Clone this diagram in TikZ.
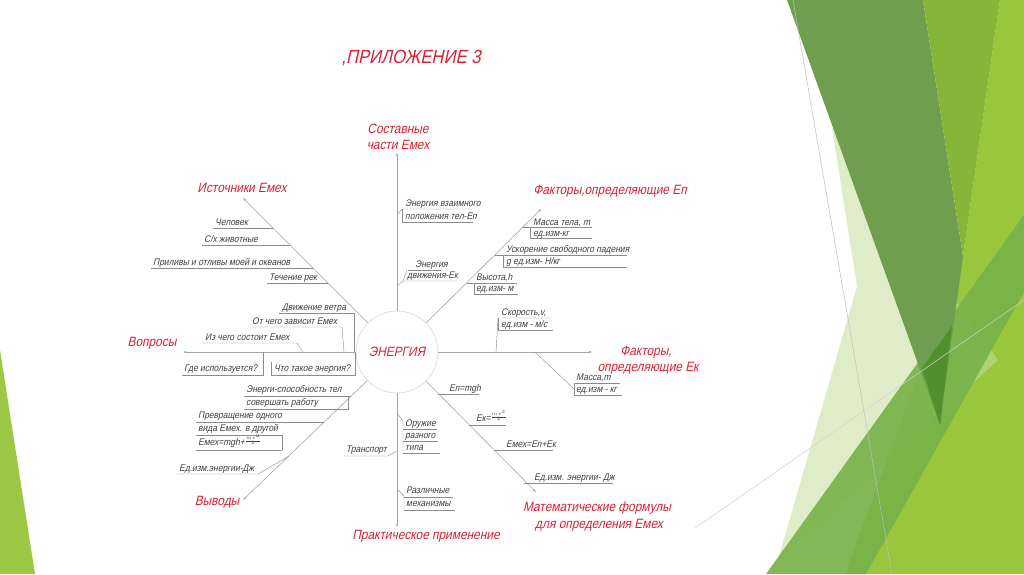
\documentclass[tikz,border=0pt]{standalone}
\usepackage{fontspec}
\newfontfamily\gost[FakeStretch=0.88,FakeSlant=0.22]{Liberation Sans}
\usetikzlibrary{arrows.meta}
\definecolor{redT}{HTML}{D42335}
\definecolor{gA}{HTML}{6F9F4E}
\definecolor{gB}{HTML}{87B537}
\definecolor{gC}{HTML}{99C63D}
\definecolor{gD}{HTML}{C6DE9C}
\definecolor{gE}{HTML}{78B24A}
\definecolor{gDk}{HTML}{52902E}
\definecolor{gL}{HTML}{9DC845}
\newcommand{\mvfrac}{\raisebox{2.5pt}{$\scriptstyle\frac{mv^2}{2}$}}
\begin{document}
\begin{tikzpicture}[x=1pt,y=-1pt,
  spoke/.style={draw=black!35,line width=0.6pt,-{Stealth[length=3.5pt,width=2.4pt]}},
  ul/.style={draw=black!45,line width=0.4pt},
  lbl/.style={font=\gost\fontsize{9.6}{11}\selectfont,text=black!75,inner sep=0pt,anchor=base west},
  hd/.style={font=\gost\fontsize{13.5}{16}\selectfont,text=redT,inner sep=0pt,anchor=center},
  ttl/.style={font=\gost\fontsize{19}{22}\selectfont,text=redT,inner sep=0pt,anchor=center},
  core/.style={circle,draw=black!12,line width=0.8pt,minimum size=82pt,inner sep=0pt,
    font=\gost\fontsize{13.5}{16}\selectfont,text=redT}]
\useasboundingbox (0,0) rectangle (1024,574);
\fill[white] (0,0) rectangle (1024,574);
% background facets
\fill[gC] (1000,0)--(1024,0)--(1024,574)--(845,574)--(963,256)--cycle;
\fill[gD,opacity=0.55] (832,128)--(998,360)--(778,560)--(857,286)--cycle;
\fill[gE,opacity=0.92] (766,574)--(1024,215)--(1024,292)--(866,574)--cycle;
\fill[gA] (787,0)--(923,0)--(963,256)--(940,425)--cycle;
\fill[gB] (923,0)--(1000,0)--(963,256)--cycle;
\fill[gDk] (922,368)--(952,326)--(940,425)--cycle;
\draw[black!25,line width=0.5pt] (793,0)--(892,574);
\draw[black!18,line width=0.5pt] (695,528)--(1024,300);
\fill[gL] (0,350)--(35,574)--(0,574)--cycle;

% title
\node[ttl] (title) at (411,58) {,ПРИЛОЖЕНИЕ 3};

% centre
\node[core] (E) at (397,352) {ЭНЕРГИЯ};

% arrow tips
\coordinate (tU) at (397,153);
\coordinate (tUL) at (243,198);
\coordinate (tL) at (183,352);
\coordinate (tDL) at (243,500);
\coordinate (tD) at (397,527);
\coordinate (tDR) at (536,492);
\coordinate (tR) at (592,352);
\coordinate (tUR) at (541,209);

\foreach \t in {tU,tUL,tL,tDL,tD,tDR,tR,tUR} \draw[spoke] (E) -- (\t);

% headings
\node[hd] (hU1) at (398,129) {Составные};
\node[hd] (hU2) at (398,145) {части Емех};
\node[hd] (hUL) at (242,188) {Источники Емех};
\node[hd] (hL) at (152,343) {Вопросы};
\node[hd] (hDL) at (217,502) {Выводы};
\node[hd] (hD) at (426,536) {Практическое применение};
\node[hd] (hDR1) at (597,508) {Математические формулы};
\node[hd] (hDR2) at (599,525) {для определения Емех};
\node[hd] (hR1) at (646,352) {Факторы,};
\node[hd] (hR2) at (648,368) {определяющие Ек};
\node[hd] (hUR) at (610,191) {Факторы,определяющие Еп};

% --- up: Составные части
\node[lbl] (c1a) at (405,206) {Энергия взаимного};
\node[lbl] (c1b) at (405,219) {положения тел-Еп};
\coordinate (bc1) at (397,215);
\draw[ul] (bc1) -- (402,209) -- (472,209);
\draw[ul] (402,209) -- (402,222) -- (473,222);
\node[lbl] (c2a) at (415,267) {Энергия};
\node[lbl] (c2b) at (407,278) {движения-Ек};
\coordinate (bc2) at (397,286);
\draw[ul] (408,270) -- (441,270);
\draw[ul] (bc2) -- (403,281) -- (457,281);
\draw[ul] (403,281) -- (407,270);

% --- up-left: Источники
\node[lbl] (u1) at (215,225) {Человек};
\node[lbl] (u2) at (204,242) {С/х животные};
\node[lbl] (u3) at (153,265) {Приливы и отливы моей и океанов};
\node[lbl] (u4) at (269,280) {Течение рек};
\coordinate (bu1) at (273,228);
\coordinate (bu2) at (290,245);
\coordinate (bu3) at (313,268);
\coordinate (bu4) at (328,283);
\draw[ul] (213,228) -- (bu1);
\draw[ul] (202,245) -- (bu2);
\draw[ul] (151,268) -- (bu3);
\draw[ul] (267,283) -- (bu4);

% --- left: Вопросы
\node[lbl] (l1) at (282,310) {Движение ветра};
\node[lbl] (l2) at (252,324) {От чего зависит Емех};
\node[lbl] (l3) at (205,340) {Из чего состоит Емех};
\node[lbl] (l4) at (184,371) {Где используется?};
\node[lbl] (l5) at (274,371) {Что такое энергия?};
\coordinate (bl1) at (354,352);
\coordinate (bl2) at (344,352);
\coordinate (bl3) at (303,352);
\coordinate (bl4) at (263,352);
\coordinate (bl5) at (355,352);
\draw[ul] (279,313) -- (354,313) -- (bl1);
\draw[ul] (250,327) -- (342,327) -- (bl2);
\draw[ul] (203,343) -- (297,343) -- (bl3);
\draw[ul] (182,375) -- (263,375) -- (bl4);
\draw[ul] (271,362) -- (271,375) -- (355,375) -- (bl5);

% --- down-left: Выводы
\node[lbl] (d1a) at (246,392) {Энерги-способность тел};
\node[lbl] (d1b) at (246,405) {совершать работу};
\coordinate (bd1) at (351,396);
\draw[ul] (244,396) -- (bd1);
\draw[ul] (244,409) -- (348,409) -- (348,396);
\node[lbl] (d2a) at (198,418) {Превращение одного};
\node[lbl] (d2b) at (198,431) {вида Емех. в другой};
\coordinate (bd2) at (324,422);
\draw[ul] (196,422) -- (bd2);
\draw[ul] (196,435) -- (282,435) -- (282,450);
\node[lbl] (d3) at (198,445) {Емех=mgh+\mvfrac};
\draw[ul] (196,450) -- (282,450);
\node[lbl] (d4) at (179,471) {Ед.изм.энергии-Дж};
\coordinate (bd4) at (289,456);
\draw[ul] (177,474) -- (258,474) -- (bd4);

% --- down: Практическое применение
\node[lbl] (p1a) at (405,426) {Оружие};
\node[lbl] (p1b) at (405,438) {разного};
\node[lbl] (p1c) at (405,450) {типа};
\coordinate (bp1) at (397,413);
\draw[ul] (bp1) -- (403,421) -- (403,453);
\draw[ul] (403,429) -- (437,429);
\draw[ul] (403,441) -- (438,441);
\draw[ul] (403,453) -- (440,453);
\node[lbl] (p2) at (346,452) {Транспорт};
\coordinate (bp2) at (397,451);
\draw[ul] (344,456) -- (388,456) -- (bp2);
\node[lbl] (p3a) at (406,493) {Различные};
\node[lbl] (p3b) at (406,506) {механизмы};
\coordinate (bp3) at (397,489);
\draw[ul] (bp3) -- (404,496) -- (404,510);
\draw[ul] (404,497) -- (453,497);
\draw[ul] (404,510) -- (455,510);

% --- down-right: формулы
\node[lbl] (m1) at (449,391) {Еп=mgh};
\node[lbl] (m2) at (476,421) {Ек=\mvfrac};
\node[lbl] (m3) at (506,447) {Емех=Еп+Ек};
\node[lbl] (m4) at (534,480) {Ед.изм. энергии- Дж};
\coordinate (bm1) at (438,394);
\coordinate (bm2) at (469,425);
\coordinate (bm3) at (494,450);
\coordinate (bm4) at (524,483);
\draw[ul] (bm1) -- (479,394);
\draw[ul] (bm2) -- (506,425);
\draw[ul] (bm3) -- (553,450);
\draw[ul] (bm4) -- (613,483);

% --- right: Факторы Ек
\node[lbl] (r1a) at (501,315) {Скорость,v,};
\node[lbl] (r1b) at (501,327) {ед.изм - м/с};
\coordinate (br1) at (496,352);
\draw[ul] (br1) -- (498,318) -- (552,318);
\draw[ul] (498,318) -- (498,330) -- (553,330);
\node[lbl] (r2a) at (576,380) {Масса,m};
\node[lbl] (r2b) at (576,392) {ед.изм - кг};
\coordinate (br2) at (535,352);
\draw[ul] (br2) -- (574,389);
\draw[ul] (574,383) -- (620,383);
\draw[ul] (574,383) -- (574,395) -- (622,395);

% --- up-right: Факторы Еп
\node[lbl] (f1a) at (533,225) {Масса тела, m};
\node[lbl] (f1b) at (533,236) {ед.изм-кг};
\coordinate (bf1) at (523,227);
\draw[ul] (bf1) -- (592,227);
\draw[ul] (530,227) -- (530,238) -- (592,238);
\node[lbl] (f2a) at (506,252) {Ускорение свободного падения};
\node[lbl] (f2b) at (506,264) {g ед.изм- Н/кг};
\coordinate (bf2) at (495,255);
\draw[ul] (bf2) -- (627,255);
\draw[ul] (503,255) -- (503,267) -- (627,267);
\node[lbl] (f3a) at (476,280) {Высота,h};
\node[lbl] (f3b) at (476,291) {ед.изм- м};
\coordinate (bf3) at (467,283);
\draw[ul] (bf3) -- (517,283);
\draw[ul] (474,283) -- (474,294) -- (518,294);
\end{tikzpicture}
\end{document}
